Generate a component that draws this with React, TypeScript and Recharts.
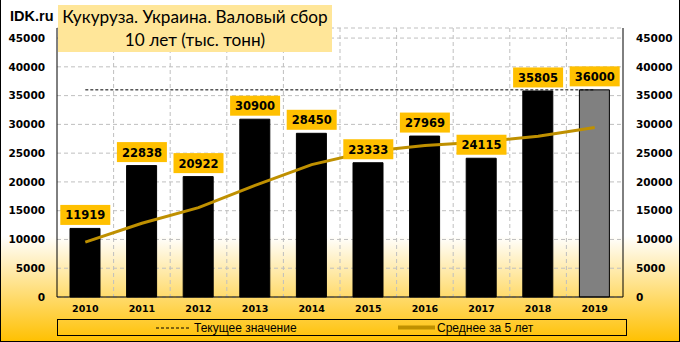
import React from 'react';
import { ComposedChart, Bar, Line, XAxis, YAxis, CartesianGrid, Cell, LabelList } from 'recharts';

const years = ['2010', '2011', '2012', '2013', '2014', '2015', '2016', '2017', '2018', '2019'];
const harvest = [11919, 22838, 20922, 30900, 28450, 23333, 27969, 24115, 35805, 36000];
const average5 = [9540, 12822, 15522, 19413, 23006, 25289, 26315, 26953, 27934, 29444];
const currentValue = 36000;
const yTicks = [0, 5000, 10000, 15000, 20000, 25000, 30000, 35000, 40000, 45000];

const titleLine1 = 'Кукуруза. Украина. Валовый сбор';
const titleLine2 = '10 лет (тыс. тонн)';
const legendCurrent = 'Текущее значение';
const legendAverage = 'Среднее за 5 лет';

const data = years.map((y, i) => ({
  year: y,
  harvest: harvest[i],
  avg: average5[i],
  cur: currentValue,
}));

const W = 680;
const H = 342;

const LabelBox = (props: any) => {
  const { x, y, value } = props;
  if (x == null || y == null) return null;
  const bw = 50;
  const bh = 20;
  return (
    <g>
      <rect x={x - bw / 2} y={y - 23.5} width={bw} height={bh} fill="#FFC000" />
      <text
        x={x}
        y={y - 13}
        textAnchor="middle"
        dominantBaseline="central"
        fontFamily="DejaVu Sans"
        fontWeight="bold"
        fontSize={11.5}
        fill="#000"
      >
        {value}
      </text>
    </g>
  );
};

const axisTick = { fontFamily: 'DejaVu Sans', fontWeight: 'bold', fontSize: 10.5, fill: '#000' } as any;
const xTick = { fontFamily: 'DejaVu Sans', fontWeight: 'bold', fontSize: 9.5, fill: '#000' } as any;

export default function App() {
  return (
    <div style={{ position: 'absolute', left: 0, top: 0, width: W, height: H, overflow: 'hidden' }}>
      <div
        style={{
          position: 'absolute',
          left: 0,
          top: 0,
          width: W,
          height: H,
          background: 'linear-gradient(180deg, #FFFFFF 0%, #FFFFFF 69%, #FFC000 100%)',
        }}
      />
      <div style={{ position: 'absolute', left: 0, top: 0 }}>
        <ComposedChart
          width={W}
          height={H}
          data={data}
          margin={{ top: 28, right: 7, bottom: 25, left: 7 }}
          barCategoryGap={0}
        >
          <CartesianGrid
            stroke="#BFBFBF"
            strokeDasharray="4 3"
            verticalCoordinatesGenerator={({ offset }: any) =>
              years.slice(1).map((_, i) => offset.left + ((i + 1) * offset.width) / years.length)
            }
          />
          <XAxis
            dataKey="year"
            height={20}
            tickLine={false}
            axisLine={{ stroke: '#000' }}
            tick={xTick}
            interval={0}
          />
          <XAxis
            xAxisId="top"
            orientation="top"
            dataKey="year"
            height={0}
            tick={false}
            tickLine={false}
            axisLine={{ stroke: '#000' }}
          />
          <YAxis
            width={50}
            domain={[0, 46750]}
            ticks={yTicks}
            interval={0}
            tickLine={false}
            tickMargin={6}
            axisLine={{ stroke: '#000' }}
            tick={axisTick}
          />
          <YAxis
            yAxisId="right"
            orientation="right"
            width={50}
            domain={[0, 46750]}
            ticks={yTicks}
            interval={0}
            tickLine={false}
            tickMargin={7}
            axisLine={{ stroke: '#000' }}
            tick={axisTick}
          />
          <Line
            yAxisId="right"
            dataKey="cur"
            stroke="#000"
            strokeWidth={1}
            strokeDasharray="3 2"
            dot={false}
            activeDot={false}
            isAnimationActive={false}
          />
          <Bar dataKey="harvest" barSize={30} isAnimationActive={false}>
            {data.map((d, i) => (
              <Cell
                key={d.year}
                fill={i === data.length - 1 ? '#808080' : '#000000'}
                stroke="#000"
                strokeWidth={1}
              />
            ))}
          </Bar>
          <Line
            dataKey="avg"
            stroke="#BF9000"
            strokeWidth={3}
            dot={false}
            activeDot={false}
            isAnimationActive={false}
          />
          <Line
            dataKey="harvest"
            stroke="none"
            dot={false}
            activeDot={false}
            isAnimationActive={false}
          >
            <LabelList dataKey="harvest" content={<LabelBox />} />
          </Line>
        </ComposedChart>
      </div>
      <div
        style={{
          position: 'absolute',
          left: 10,
          top: 7,
          fontFamily: 'Liberation Sans',
          fontWeight: 'bold',
          fontSize: 14.5,
          color: '#000',
          lineHeight: '18px',
        }}
      >
        IDK.ru
      </div>
      <div
        style={{
          position: 'absolute',
          left: 58,
          top: 5,
          width: 274,
          height: 47,
          background: '#FFE699',
          fontFamily: 'Lato',
          fontSize: 17.2,
          color: '#000',
          textAlign: 'center',
          lineHeight: '23px',
          whiteSpace: 'nowrap',
        }}
      >
        <div>{titleLine1}</div>
        <div>{titleLine2}</div>
      </div>
      <div
        style={{
          position: 'absolute',
          left: 57,
          top: 319,
          width: 570,
          height: 17,
          boxSizing: 'border-box',
          border: '1px solid #000',
          fontFamily: 'Liberation Sans',
          fontSize: 12,
          color: '#000',
        }}
      >
        <svg style={{ position: 'absolute', left: 98, top: 7 }} width={34} height={3}>
          <line x1={0} y1={1} x2={34} y2={1} stroke="#000" strokeWidth={1} strokeDasharray="3 2" />
        </svg>
        <span style={{ position: 'absolute', left: 136, top: 1, lineHeight: '14px', whiteSpace: 'nowrap' }}>
          {legendCurrent}
        </span>
        <svg style={{ position: 'absolute', left: 340, top: 5 }} width={37} height={5}>
          <line x1={0} y1={2.5} x2={37} y2={2.5} stroke="#BF9000" strokeWidth={4} />
        </svg>
        <span style={{ position: 'absolute', left: 379, top: 1, lineHeight: '14px', whiteSpace: 'nowrap' }}>
          {legendAverage}
        </span>
      </div>
      <div
        style={{
          position: 'absolute',
          left: 0,
          top: 0,
          width: W,
          height: H,
          boxSizing: 'border-box',
          borderLeft: '1px solid #000',
          borderRight: '1px solid #000',
          borderBottom: '1px solid #000',
          pointerEvents: 'none',
        }}
      />
    </div>
  );
}
